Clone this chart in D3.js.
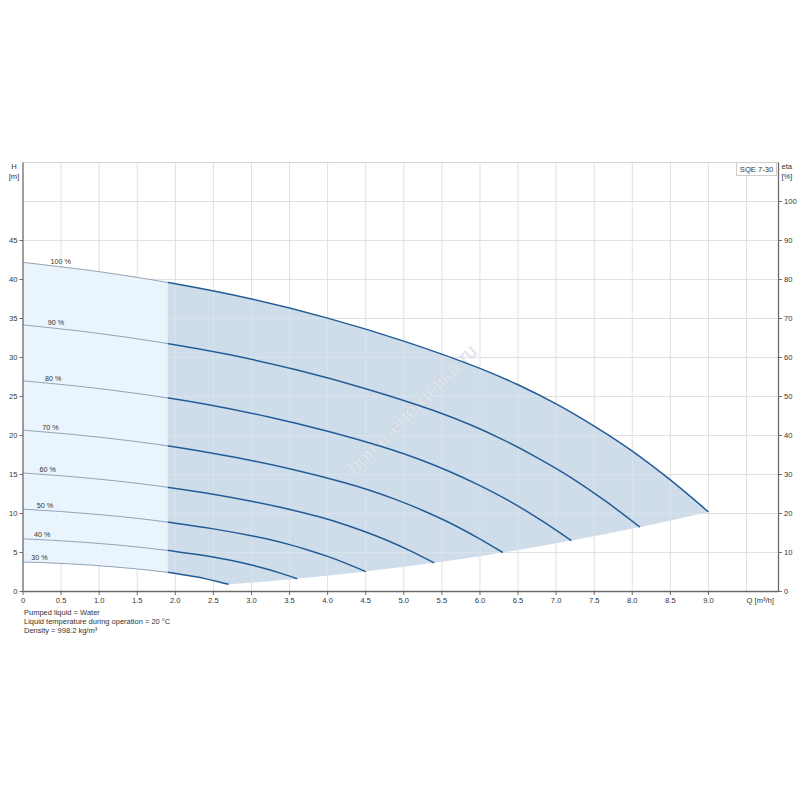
<!DOCTYPE html>
<html><head><meta charset="utf-8">
<script src="https://cdn.jsdelivr.net/npm/d3@7/dist/d3.min.js"></script>
<style>body{margin:0;background:#fff} text{font-family:"Liberation Sans",Arial,sans-serif}</style>
</head><body><svg id="c" width="800" height="800"></svg>
<script>
// ---- data ----
const speedLabels = ["100 %","90 %","80 %","70 %","60 %","50 %","40 %","30 %"];
const speedFractions = [1.0,0.9,0.8,0.7,0.6,0.5,0.4,0.3];
const q100 = [0,1,2,3,4,5,6,6.5,7,7.5,8,8.5,9];
const h100 = [42.2,41.0,39.45,37.5,35.05,32.1,28.6,26.5,24.05,21.2,18.0,14.3,10.2];
const q90 = [0,0.9,1.8,2.7,3.6,4.5,5.4,5.85,6.3,6.75,7.2,7.65,8.1];
const h90 = [34.18,33.21,31.95,30.38,28.39,26.0,23.17,21.47,19.48,17.17,14.58,11.58,8.26];
const q80 = [0,0.8,1.6,2.4,3.2,4.0,4.8,5.2,5.6,6.0,6.4,6.8,7.2];
const h80 = [27.01,26.24,25.25,24.0,22.43,20.54,18.3,16.96,15.39,13.57,11.52,9.15,6.53];
const q70 = [0,0.7,1.4,2.1,2.8,3.5,4.2,4.55,4.9,5.25,5.6,5.95,6.3];
const h70 = [20.68,20.09,19.33,18.38,17.17,15.73,14.01,12.99,11.78,10.39,8.82,7.01,5.0];
const q60 = [0,0.6,1.2,1.8,2.4,3.0,3.6,3.9,4.2,4.5,4.8,5.1,5.4];
const h60 = [15.19,14.76,14.2,13.5,12.62,11.56,10.3,9.54,8.66,7.63,6.48,5.15,3.67];
const q50 = [0,0.5,1.0,1.5,2.0,2.5,3.0,3.25,3.5,3.75,4.0,4.25,4.5];
const h50 = [10.55,10.25,9.86,9.38,8.76,8.03,7.15,6.63,6.01,5.3,4.5,3.58,2.55];
const q40 = [0,0.4,0.8,1.2,1.6,2.0,2.4,2.6,2.8,3.0,3.2,3.4,3.6];
const h40 = [6.75,6.56,6.31,6.0,5.61,5.14,4.58,4.24,3.85,3.39,2.88,2.29,1.63];
const q30 = [0,0.3,0.6,0.9,1.2,1.5,1.8,1.95,2.1,2.25,2.4,2.55,2.7];
const h30 = [3.78,3.69,3.55,3.38,3.15,2.89,2.57,2.39,2.16,1.91,1.62,1.29,0.92];
const xTicks = [0,0.5,1,1.5,2,2.5,3,3.5,4,4.5,5,5.5,6,6.5,7,7.5,8,8.5,9];
const yTicks = [0,5,10,15,20,25,30,35,40,45];
const etaTicks = [0,10,20,30,40,50,60,70,80,90,100];
const xGridVals = [0.5,1,1.5,2,2.5,3,3.5,4,4.5,5,5.5,6,6.5,7,7.5,8,8.5,9,9.5];
const yGridVals = [5,10,15,20,25,30,35,40,45,50];
const splitQ = 1.9;
const notes = ["Pumped liquid = Water","Liquid temperature during operation = 20 °C","Density = 998.2 kg/m³"];

// ---- layout ----
const L=23, R=778.5, T=162.5, B=591.5;
const x = d3.scaleLinear().domain([0,9.92]).range([L,R]);
const y = d3.scaleLinear().domain([0,55]).range([B,T]);
const y2 = d3.scaleLinear().domain([0,110]).range([B,T]);
const svg = d3.select("#c");

const curvesQ = [q100,q90,q80,q70,q60,q50,q40,q30];
const curvesH = [h100,h90,h80,h70,h60,h50,h40,h30];
const curves = curvesQ.map((qs,i)=>qs.map((q,j)=>[q,curvesH[i][j]]));
const ends = curves.map(c=>c[c.length-1]).reverse(); // from 30% to 100%

const line = d3.line().x(d=>x(d[0])).y(d=>y(d[1])).curve(d3.curveCatmullRom.alpha(0.5));

const defs = svg.append("defs");
defs.append("clipPath").attr("id","cl").append("rect")
  .attr("x",L).attr("y",T).attr("width",x(splitQ)-L).attr("height",B-T);
defs.append("clipPath").attr("id","cr").append("rect")
  .attr("x",x(splitQ)).attr("y",T).attr("width",R-x(splitQ)).attr("height",B-T);

// grid
const g = svg.append("g");
g.selectAll(".vg").data(xGridVals).join("line")
  .attr("x1",d=>x(d)).attr("x2",d=>x(d)).attr("y1",T).attr("y2",B)
  .attr("stroke","#e0e0e0").attr("stroke-width",1);
g.selectAll(".hg").data(yGridVals).join("line")
  .attr("x1",L).attr("x2",R).attr("y1",d=>y(d)).attr("y2",d=>y(d))
  .attr("stroke","#e0e0e0").attr("stroke-width",1);
g.append("line").attr("x1",L).attr("x2",R).attr("y1",T).attr("y2",T)
  .attr("stroke","#d6d6d6");

// region polygon: 100% curve, back along end-point boundary, back along 30% curve
const topCurve = curves[0];
const bottomCurve = curves[7];
const regionPath = line(topCurve)
  + line(ends.slice().reverse()).replace(/^M/,"L")
  + line(bottomCurve.slice().reverse()).replace(/^M/,"L") + "Z";
svg.append("path").attr("d",regionPath).attr("fill","#eaf4fd").attr("clip-path","url(#cl)");
svg.append("path").attr("d",regionPath).attr("fill","#cfdce9").attr("clip-path","url(#cr)");
// faint grid over the fill
defs.append("clipPath").attr("id","regclip").append("path").attr("d",regionPath);
const g2 = svg.append("g").attr("clip-path","url(#regclip)");
g2.selectAll(".vg").data(xGridVals).join("line")
  .attr("x1",d=>x(d)).attr("x2",d=>x(d)).attr("y1",T).attr("y2",B)
  .attr("stroke","#ffffff").attr("stroke-opacity",0.22);
g2.selectAll(".hg").data(yGridVals).join("line")
  .attr("x1",L).attr("x2",R).attr("y1",d=>y(d)).attr("y2",d=>y(d))
  .attr("stroke","#ffffff").attr("stroke-opacity",0.22);

// watermark
svg.append("text").attr("transform","translate(417,414) rotate(-45)")
  .attr("text-anchor","middle").attr("font-size",20).attr("fill","#e9edf2")
  .attr("stroke","#c9d0d8").attr("stroke-width",0.35)
  .attr("fill-opacity",0.9).text("home-energetika.ru");

// curves
curves.forEach((c,i)=>{
  svg.append("path").attr("d",line(c)).attr("fill","none")
    .attr("stroke","#8799ad").attr("stroke-width",0.9).attr("clip-path","url(#cl)");
  svg.append("path").attr("d",line(c)).attr("fill","none")
    .attr("stroke","#225c97").attr("stroke-width",1.5).attr("clip-path","url(#cr)");
  const n = speedFractions[i];
  const lq = 0.36*n;
  const h0 = c[0][1], h1 = c[1][1], q1 = c[1][0];
  const lh = h0 + (h1-h0)*lq/q1;
  svg.append("text").attr("x",x(lq)).attr("y",y(lh)-2.2)
    .attr("font-size",7.2).attr("fill","#333").text(speedLabels[i]);
});

// axes
const ax = svg.append("g").attr("stroke","#6b6b6b").attr("stroke-width",1.3);
ax.append("line").attr("x1",L).attr("x2",L).attr("y1",T).attr("y2",B+0.6);
ax.append("line").attr("x1",L).attr("x2",R).attr("y1",B).attr("y2",B);
ax.append("line").attr("x1",R).attr("x2",R).attr("y1",T).attr("y2",B+0.6);

svg.selectAll(".xt").data(xTicks).join("line")
  .attr("x1",d=>x(d)).attr("x2",d=>x(d)).attr("y1",B).attr("y2",B+3.5)
  .attr("stroke","#6b6b6b");
svg.selectAll(".xl").data(xTicks).join("text")
  .attr("x",d=>x(d)).attr("y",B+11).attr("text-anchor","middle")
  .attr("font-size",7.6).attr("fill","#333")
  .text(d=>d===0?"0":d.toFixed(1));
svg.append("text").attr("x",x(9.5)).attr("y",B+11).attr("font-size",7.6).attr("fill","#333")
  .text("Q [m³/h]");

svg.selectAll(".yt").data(yTicks).join("line")
  .attr("x1",L-3.5).attr("x2",L).attr("y1",d=>y(d)).attr("y2",d=>y(d))
  .attr("stroke","#6b6b6b");
svg.selectAll(".yl").data(yTicks).join("text")
  .attr("x",L-5.5).attr("y",d=>y(d)+2.8).attr("text-anchor","end")
  .attr("font-size",7.6).attr("fill","#333").text(d=>d);

svg.selectAll(".et").data(etaTicks).join("line")
  .attr("x1",R).attr("x2",R+3.5).attr("y1",d=>y2(d)).attr("y2",d=>y2(d))
  .attr("stroke","#6b6b6b");
svg.selectAll(".el").data(etaTicks).join("text")
  .attr("x",R+5.5).attr("y",d=>y2(d)+2.8)
  .attr("font-size",7.6).attr("fill","#333").text(d=>d);

// axis titles
svg.append("text").attr("x",14).attr("y",168.5).attr("text-anchor","middle")
  .attr("font-size",7.6).attr("fill","#333").text("H");
svg.append("text").attr("x",14).attr("y",178.5).attr("text-anchor","middle")
  .attr("font-size",7.6).attr("fill","#333").text("[m]");
svg.append("text").attr("x",781.5).attr("y",168.5)
  .attr("font-size",7.6).attr("fill","#333").text("eta");
svg.append("text").attr("x",781.5).attr("y",178.5)
  .attr("font-size",7.6).attr("fill","#333").text("[%]");

// model box
svg.append("rect").attr("x",736.5).attr("y",162.5).attr("width",40).attr("height",13)
  .attr("fill","#fff").attr("stroke","#cfcfcf");
svg.append("text").attr("x",756.5).attr("y",171.8).attr("text-anchor","middle")
  .attr("font-size",7.6).attr("fill","#333").text("SQE 7-30");

// notes
svg.selectAll(".nt").data(notes).join("text")
  .attr("x",24).attr("y",(d,i)=>614.5+i*9.3)
  .attr("font-size",7.5).attr("fill","#333").text(d=>d);
</script></body></html>
